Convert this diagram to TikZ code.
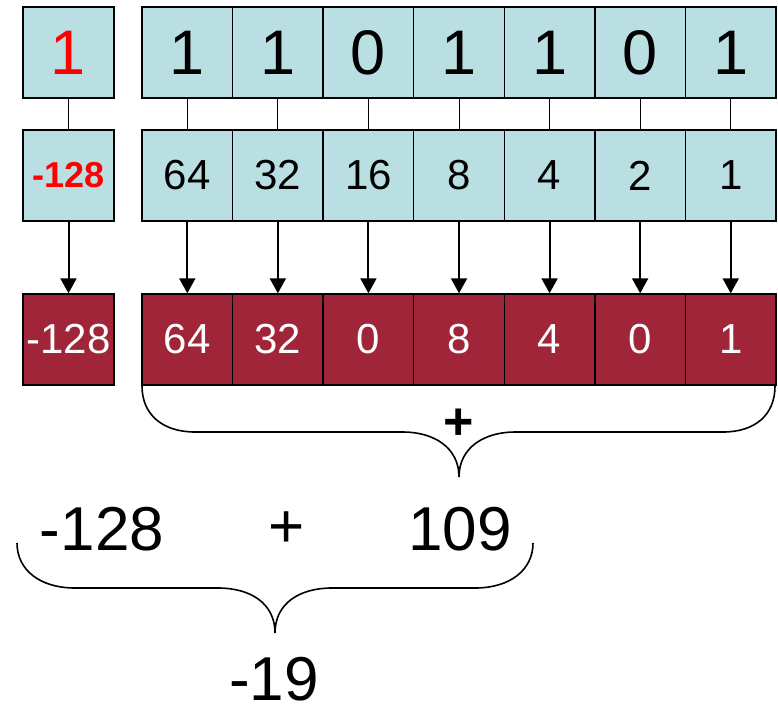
\documentclass[tikz,border=0pt]{standalone}
\usepackage{fontspec}
\setmainfont{Liberation Sans}
\usetikzlibrary{arrows.meta}
\definecolor{cellblue}{HTML}{BADFE2}
\definecolor{cellred}{HTML}{A02538}
\definecolor{txtred}{HTML}{FF0000}
\begin{document}
\begin{tikzpicture}[x=1pt,y=-1pt,
  cell/.style={draw=black,line width=1.4pt,inner sep=0pt,minimum width=90.6pt,minimum height=91pt,anchor=center},
  bitcell/.style={cell,fill=cellblue,font=\fontsize{63}{63}\selectfont},
  wcell/.style={cell,fill=cellblue,font=\fontsize{42}{42}\selectfont},
  vcell/.style={cell,fill=cellred,text=white,font=\fontsize{42}{42}\selectfont},
  link/.style={line width=1pt},
  arr/.style={line width=2pt,-{Triangle[width=16pt,length=15pt]}},
  brace/.style={line width=1.6pt},
  big/.style={font=\fontsize{62}{62}\selectfont,inner sep=0pt}]
\useasboundingbox (0,0) rectangle (778,708);
% sign column
\node[bitcell,text=txtred,minimum width=91pt] (t0) at (68.5,52.5) {1};
\node[wcell,text=txtred,minimum width=91pt,font=\fontsize{36}{36}\selectfont\bfseries] (m0) at (68.5,175.5) {-128};
\node[vcell,minimum width=91pt] (b0) at (68.5,339.5) {-128};
% other columns
\foreach \i/\b/\w/\v in {1/1/64/64,2/1/32/32,3/0/16/0,4/1/8/8,5/1/4/4,6/0/2/0,7/1/1/1}{
  \pgfmathsetmacro{\cx}{142+45.3+90.57*(\i-1)}
  \node[bitcell] (t\i) at (\cx,52.5) {\b};
  \node[wcell] (m\i) at (\cx,175.5) {\w};
  \node[vcell] (b\i) at (\cx,339.5) {\v};
}
\foreach \i in {0,...,7}{
  \draw[link] (t\i.south) -- (m\i.north);
  \draw[arr] (m\i.south) -- (b\i.north);
}
% upper brace
\draw[brace] (142,386) .. controls (142,415) and (163,432) .. (195,432)
  -- (403,432) .. controls (433,432) and (459,447) .. (459,477)
  .. controls (459,447) and (485,432) .. (515,432)
  -- (723,432) .. controls (755,432) and (775,415) .. (775,386);
\node[font=\fontsize{52}{52}\selectfont\bfseries,inner sep=0pt] (plus1) at (459,424) {+};
% lower texts
\node[big] (lneg) at (102,529) {-128};
\node[big] (lplus) at (287,530) {+};
\node[big] (lpos) at (460,529) {109};
% lower brace
\draw[brace] (17,543) .. controls (17,570) and (40,588) .. (75,588)
  -- (218,588) .. controls (250,588) and (275,603) .. (275,633)
  .. controls (275,603) and (300,588) .. (332,588)
  -- (475,588) .. controls (510,588) and (533,570) .. (533,543);
\node[big] (res) at (274,679) {-19};
\end{tikzpicture}
\end{document}
